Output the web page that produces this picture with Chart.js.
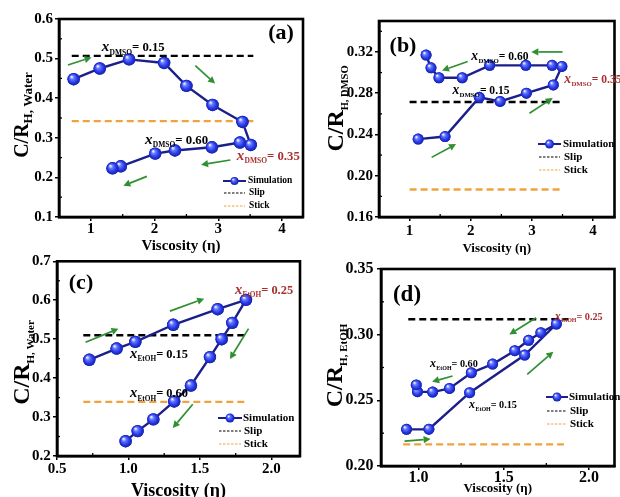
<!DOCTYPE html>
<html><head><meta charset="utf-8">
<script src="https://cdn.jsdelivr.net/npm/chart.js@4.4.0/dist/chart.umd.min.js"></script>
<style>
html,body{margin:0;padding:0;background:#fff;width:620px;height:497px;overflow:hidden;position:relative;}
canvas{position:absolute;}
</style></head><body>
<canvas id="ca" width="310" height="270" style="left:0;top:0"></canvas>
<canvas id="cb" width="310" height="270" style="left:310px;top:0"></canvas>
<canvas id="cc" width="310" height="270" style="left:0;top:250px"></canvas>
<canvas id="cd" width="310" height="270" style="left:310px;top:250px"></canvas>
<script>
// ---------- DATA ----------
// (a) DMSO-water, C/R_H,Water
const A_VISCOSITY = [0.73, 1.14, 1.60, 2.15, 2.50, 2.91, 3.38, 3.51, 3.34, 2.90, 2.32, 2.01, 1.47, 1.34];
const A_CR        = [0.448, 0.475, 0.498, 0.489, 0.431, 0.383, 0.340, 0.282, 0.288, 0.276, 0.268, 0.260, 0.228, 0.223];
const A_SLIP_X = [0.70, 3.55], A_SLIP_Y = [0.507, 0.507];
const A_STICK_X = [0.70, 3.55], A_STICK_Y = [0.342, 0.342];
const A_XTICKS = [1, 2, 3, 4];
const A_YTICKS = [0.1, 0.2, 0.3, 0.4, 0.5, 0.6];

// (b) DMSO-water, C/R_H,DMSO
const B_VISCOSITY = [1.14, 1.58, 2.14, 2.48, 2.91, 3.35, 3.49, 3.33, 2.90, 2.31, 1.86, 1.48, 1.35, 1.27];
const B_CR        = [0.2355, 0.238, 0.276, 0.272, 0.280, 0.288, 0.306, 0.307, 0.307, 0.307, 0.295, 0.295, 0.3046, 0.317];
const B_SLIP_X = [1.0, 3.51], B_SLIP_Y = [0.2715, 0.2715];
const B_STICK_X = [1.0, 3.51], B_STICK_Y = [0.1866, 0.1866];
const B_XTICKS = [1, 2, 3, 4];
const B_YTICKS = [0.16, 0.20, 0.24, 0.28, 0.32];

// (c) EtOH-water, C/R_H,Water
const C_VISCOSITY = [0.726, 0.917, 1.048, 1.313, 1.624, 1.822, 1.726, 1.652, 1.570, 1.437, 1.320, 1.174, 1.064, 0.980];
const C_CR        = [0.447, 0.476, 0.493, 0.537, 0.577, 0.601, 0.542, 0.500, 0.454, 0.381, 0.340, 0.294, 0.264, 0.238];
const C_SLIP_X = [0.684, 1.831], C_SLIP_Y = [0.510, 0.510];
const C_STICK_X = [0.684, 1.831], C_STICK_Y = [0.339, 0.339];
const C_XTICKS = [0.5, 1.0, 1.5, 2.0];
const C_YTICKS = [0.2, 0.3, 0.4, 0.5, 0.6, 0.7];

// (d) EtOH-water, C/R_H,EtOH
const D_VISCOSITY = [0.93, 1.061, 1.30, 1.623, 1.809, 1.718, 1.646, 1.565, 1.435, 1.31, 1.182, 1.083, 0.994, 0.987];
const D_CR        = [0.2279, 0.228, 0.2558, 0.2845, 0.3081, 0.3015, 0.2957, 0.2878, 0.2776, 0.271, 0.2591, 0.2563, 0.2566, 0.2617];
const D_SLIP_X = [0.94, 1.88], D_SLIP_Y = [0.3117, 0.3117];
const D_STICK_X = [0.91, 1.853], D_STICK_Y = [0.2165, 0.2165];
const D_XTICKS = [1.0, 1.5, 2.0];
const D_YTICKS = [0.20, 0.25, 0.30, 0.35];

// green direction arrows (data coords: x1, y1 -> x2, y2)
const A_ARROWS = [[0.64,0.484,1.01,0.503],[2.64,0.482,2.95,0.437],[3.19,0.244,2.73,0.232],[1.88,0.2025,1.51,0.179]];
const B_ARROWS = [[3.50,0.320,2.99,0.320],[1.95,0.3107,1.53,0.302],[2.96,0.2606,3.34,0.2753],[1.36,0.2178,1.76,0.2307]];
const C_ARROWS = [[0.70,0.492,0.93,0.527],[1.29,0.572,1.53,0.604],[1.84,0.527,1.71,0.449],[1.45,0.333,1.31,0.272]];
const D_ARROWS = [[0.918,0.219,1.071,0.2205],[1.638,0.2698,1.791,0.287],[1.69,0.3129,1.533,0.3002],[1.20,0.2685,1.08,0.2642]];

// composition labels: [x, y, subscript, text, red?]
const A_LABELS = [[1.17,0.531,'DMSO','= 0.15',0],[1.85,0.297,'DMSO','= 0.60',0],[3.29,0.256,'DMSO','= 0.35',1]];
const B_LABELS = [[2.01,0.3164,'DMSO','= 0.60',0],[1.70,0.2837,'DMSO','= 0.15',0],[3.53,0.294,'DMSO','= 0.35',1]];
const C_LABELS = [[1.745,0.6286,'EtOH','= 0.25',1],[1.01,0.465,'EtOH','= 0.15',0],[1.01,0.363,'EtOH','= 0.60',0]];
const D_LABELS = [[1.80,0.3145,'EtOH','= 0.25',1],[1.067,0.2784,'EtOH','= 0.60',0],[1.297,0.2472,'EtOH','= 0.15',0]];

const LEGEND_NAMES = ['Simulation', 'Slip', 'Stick'];

// ---------- STYLE / LAYOUT ----------
const FONT = '"Liberation Serif", "Times New Roman", serif';
const NAVY = '#1b1f8c', ORANGE = '#f0a23c', GREEN = '#2f9032', RED = '#a93030';
const H = 270;

const PANELS = [
  {id:'ca', tag:'(a)', vx:A_VISCOSITY, vy:A_CR, slip:[A_SLIP_X,A_SLIP_Y], stick:[A_STICK_X,A_STICK_Y],
   xt:A_XTICKS, yt:A_YTICKS, xdec:0, ydec:1, xr:[0.5,4.33], yr:[0.1,0.6],
   area:{l:59,t:19,r:303,b:217}, tickSize:15, xPad:-0.5, yPad:2, titleSize:15, titlePb:15,
   ySub:'H, Water', yMain:20, ySubSize:13, yBx:28, yCy:115,
   arrows:A_ARROWS, labels:A_LABELS, ls:15, r:6.2,
   tagPos:[281,33], tagSize:22,
   leg:{x0:223,x1:246,tx:248,rows:[181,193,206],size:9.5,r:4}},
  {id:'cb', tag:'(b)', vx:B_VISCOSITY, vy:B_CR, slip:[B_SLIP_X,B_SLIP_Y], stick:[B_STICK_X,B_STICK_Y],
   xt:B_XTICKS, yt:B_YTICKS, xdec:0, ydec:2, xr:[0.5,4.35], yr:[0.16,0.35],
   area:{l:69,t:21,r:309,b:217}, tickSize:15, xPad:1, yPad:2, titleSize:13, titlePb:14,
   ySub:'H, DMSO', yMain:24, ySubSize:10.5, yBx:33, yCy:108.5,
   arrows:B_ARROWS, labels:B_LABELS, ls:13.6, r:5.5,
   tagPos:[93,46], tagSize:22,
   leg:{x0:228,x1:251,tx:253,rows:[144,157,170],size:11,r:4.5}},
  {id:'cc', tag:'(c)', vx:C_VISCOSITY, vy:C_CR, slip:[C_SLIP_X,C_SLIP_Y], stick:[C_STICK_X,C_STICK_Y],
   xt:C_XTICKS, yt:C_YTICKS, xdec:1, ydec:1, xr:[0.5,2.2], yr:[0.2,0.7],
   area:{l:57,t:10,r:300,b:206}, tickSize:15, xPad:0, yPad:2.3, titleSize:18, titlePb:18,
   ySub:'H, Water', yMain:24, ySubSize:11, yBx:29, yCy:112.5,
   arrows:C_ARROWS, labels:C_LABELS, ls:14.6, r:6.2,
   tagPos:[81,33], tagSize:22,
   leg:{x0:218,x1:242,tx:243,rows:[168,181,194],size:11,r:4.5}},
  {id:'cd', tag:'(d)', vx:D_VISCOSITY, vy:D_CR, slip:[D_SLIP_X,D_SLIP_Y], stick:[D_STICK_X,D_STICK_Y],
   xt:D_XTICKS, yt:D_YTICKS, xdec:1, ydec:2, xr:[0.78,2.15], yr:[0.20,0.35],
   area:{l:71,t:19,r:309,b:216}, tickSize:16, xPad:-1.6, yPad:3.4, titleSize:13, titlePb:24,
   ySub:'H, EtOH', yMain:24, ySubSize:11, yBx:32, yCy:115.5,
   arrows:D_ARROWS, labels:D_LABELS, ls:12, r:5.5,
   tagPos:[97,45], tagSize:23,
   leg:{x0:236,x1:258,tx:259,rows:[147,161,174],size:11,r:4.5}}
];
const PANEL_BY_ID = {};
PANELS.forEach(P => { PANEL_BY_ID[P.id] = P; });

// ---------- drawing helpers ----------
function sphere(ctx, x, y, r) {
  const g = ctx.createRadialGradient(x - r*0.35, y - r*0.4, r*0.08, x, y, r);
  g.addColorStop(0, '#e6ecff');
  g.addColorStop(0.28, '#6677ff');
  g.addColorStop(0.7, '#2436e6');
  g.addColorStop(1, '#16239e');
  ctx.beginPath(); ctx.arc(x, y, r, 0, Math.PI*2); ctx.fillStyle = g; ctx.fill();
}
function arrow(ctx, x1, y1, x2, y2) {
  const a = Math.atan2(y2 - y1, x2 - x1), hl = 7, hw = 3.6;
  const bx = x2 - hl*Math.cos(a), by = y2 - hl*Math.sin(a);
  ctx.strokeStyle = GREEN; ctx.fillStyle = GREEN; ctx.lineWidth = 1.7; ctx.setLineDash([]);
  ctx.beginPath(); ctx.moveTo(x1, y1); ctx.lineTo(bx, by); ctx.stroke();
  ctx.beginPath(); ctx.moveTo(x2, y2);
  ctx.lineTo(bx + hw*Math.sin(a), by - hw*Math.cos(a));
  ctx.lineTo(bx - hw*Math.sin(a), by + hw*Math.cos(a));
  ctx.closePath(); ctx.fill();
}
function compLabel(ctx, x, y, sub, rest, color, s) {
  ctx.fillStyle = color; ctx.textBaseline = 'alphabetic'; ctx.textAlign = 'left';
  const base = y + 0.33*s;
  ctx.font = 'italic bold ' + s + 'px ' + FONT; ctx.fillText('x', x, base);
  let cx = x + ctx.measureText('x').width + 0.3;
  ctx.font = 'bold ' + (s*0.5) + 'px ' + FONT; ctx.fillText(sub, cx, base + s*0.22);
  cx += ctx.measureText(sub).width;
  ctx.font = 'bold ' + (s*0.85) + 'px ' + FONT; ctx.fillText(rest, cx, base);
}

const deco = {
  id: 'deco',
  afterDatasetsDraw(chart) {
    const P = PANEL_BY_ID[chart.canvas.id], ctx = chart.ctx;
    if (!P) return;
    const meta = chart.getDatasetMeta(0);
    ctx.save();
    meta.data.forEach(pt => sphere(ctx, pt.x, pt.y, P.r));
    ctx.restore();
  },
  afterDraw(chart) {
    const P = PANEL_BY_ID[chart.canvas.id], ctx = chart.ctx, ca = chart.chartArea;
    if (!P) return;
    const xs = chart.scales.x, ys = chart.scales.y;
    ctx.save();
    // minor ticks (inward)
    ctx.strokeStyle = '#000'; ctx.lineWidth = 1.3;
    const minors = (t) => { const m = []; for (let i = 0; i < t.length - 1; i++) m.push((t[i] + t[i+1]) / 2);
      const st = t[1] - t[0]; m.push(t[0] - st/2, t[t.length-1] + st/2); return m; };
    minors(P.xt).forEach(v => { if (v < P.xr[0] || v > P.xr[1]) return; const px = xs.getPixelForValue(v);
      ctx.beginPath(); ctx.moveTo(px, ca.bottom); ctx.lineTo(px, ca.bottom - 3); ctx.stroke(); });
    minors(P.yt).forEach(v => { if (v < P.yr[0] || v > P.yr[1]) return; const py = ys.getPixelForValue(v);
      ctx.beginPath(); ctx.moveTo(ca.left, py); ctx.lineTo(ca.left + 3, py); ctx.stroke(); });
    // frame
    ctx.lineWidth = 2.6; ctx.strokeStyle = '#000';
    ctx.strokeRect(ca.left, ca.top, ca.right - ca.left, ca.bottom - ca.top);
    // arrows
    P.arrows.forEach(a => arrow(ctx, xs.getPixelForValue(a[0]), ys.getPixelForValue(a[1]),
                                     xs.getPixelForValue(a[2]), ys.getPixelForValue(a[3])));
    // composition labels
    P.labels.forEach(l => compLabel(ctx, xs.getPixelForValue(l[0]), ys.getPixelForValue(l[1]), l[2], l[3], l[4] ? RED : '#000', P.ls));
    // panel tag
    ctx.fillStyle = '#000'; ctx.font = 'bold ' + P.tagSize + 'px ' + FONT; ctx.textAlign = 'center'; ctx.textBaseline = 'middle';
    ctx.fillText(P.tag, P.tagPos[0], P.tagPos[1]);
    // legend
    const L = P.leg;
    ctx.lineWidth = 2; ctx.strokeStyle = NAVY; ctx.setLineDash([]);
    ctx.beginPath(); ctx.moveTo(L.x0, L.rows[0]); ctx.lineTo(L.x1, L.rows[0]); ctx.stroke();
    sphere(ctx, (L.x0 + L.x1) / 2, L.rows[0], L.r);
    ctx.lineWidth = 1; ctx.setLineDash([2.5, 1.5]);
    ctx.strokeStyle = '#000'; ctx.beginPath(); ctx.moveTo(L.x0 + 1, L.rows[1]); ctx.lineTo(L.x1 - 1, L.rows[1]); ctx.stroke();
    ctx.strokeStyle = ORANGE; ctx.beginPath(); ctx.moveTo(L.x0 + 1, L.rows[2]); ctx.lineTo(L.x1 - 1, L.rows[2]); ctx.stroke();
    ctx.setLineDash([]);
    ctx.fillStyle = '#000'; ctx.font = 'bold ' + L.size + 'px ' + FONT; ctx.textAlign = 'left'; ctx.textBaseline = 'middle';
    LEGEND_NAMES.forEach((n, i) => ctx.fillText(n, L.tx + (i ? 1 : 0), L.rows[i]));
    // y title with subscript
    ctx.translate(P.yBx, P.yCy); ctx.rotate(-Math.PI / 2);
    ctx.textBaseline = 'alphabetic'; ctx.textAlign = 'left';
    ctx.font = 'bold ' + P.yMain + 'px ' + FONT; const wm = ctx.measureText('C/R').width;
    ctx.font = 'bold ' + P.ySubSize + 'px ' + FONT; const wsub = ctx.measureText(P.ySub).width;
    const start = -(wm + wsub) / 2;
    ctx.font = 'bold ' + P.yMain + 'px ' + FONT; ctx.fillText('C/R', start, 0);
    ctx.font = 'bold ' + P.ySubSize + 'px ' + FONT; ctx.fillText(P.ySub, start + wm, P.yMain * 0.22);
    ctx.restore();
  }
};

PANELS.forEach(P => {
  const toPts = (xa, ya) => xa.map((v, i) => ({x: v, y: ya[i]}));
  const cfg = {
    type: 'scatter',
    data: { datasets: [
      { label: 'Simulation', data: toPts(P.vx, P.vy), showLine: true, borderColor: NAVY, borderWidth: 2.4,
        pointRadius: P.r, pointBackgroundColor: '#2436e6', pointBorderWidth: 0, tension: 0 },
      { label: 'Slip', data: toPts(P.slip[0], P.slip[1]), showLine: true, borderColor: '#000', borderWidth: 2.4,
        borderDash: [7, 4], pointRadius: 0 },
      { label: 'Stick', data: toPts(P.stick[0], P.stick[1]), showLine: true, borderColor: ORANGE, borderWidth: 2.4,
        borderDash: [7, 4], pointRadius: 0 }
    ]},
    options: {
      responsive: false, animation: false, devicePixelRatio: 1, events: [],
      layout: { padding: { top: P.area.t, right: 310 - P.area.r, left: 0, bottom: 0 } },
      plugins: { legend: { display: false }, tooltip: { enabled: false } },
      scales: {
        x: { type: 'linear', position: 'bottom', min: P.xr[0], max: P.xr[1],
          afterBuildTicks: s => { s.ticks = P.xt.map(v => ({value: v})); },
          afterFit: s => { s.height = H - P.area.b; },
          ticks: { color: '#000', font: { family: FONT, weight: 'bold', size: P.tickSize }, padding: P.xPad,
                   maxRotation: 0, autoSkip: false, callback: v => Number(v).toFixed(P.xdec) },
          grid: { drawOnChartArea: false, drawTicks: true, tickLength: 4, color: '#000', lineWidth: 1.5 },
          border: { color: '#000', width: 2.6 },
          title: { display: true, text: 'Viscosity (η)', color: '#000',
                   font: { family: FONT, weight: 'bold', size: P.titleSize }, padding: { top: 0, bottom: P.titlePb } } },
        y: { type: 'linear', position: 'left', min: P.yr[0], max: P.yr[1],
          afterBuildTicks: s => { s.ticks = P.yt.map(v => ({value: v})); },
          afterFit: s => { s.width = P.area.l; },
          ticks: { color: '#000', font: { family: FONT, weight: 'bold', size: P.tickSize }, padding: P.yPad,
                   autoSkip: false, callback: v => Number(v).toFixed(P.ydec) },
          grid: { drawOnChartArea: false, drawTicks: true, tickLength: 4, color: '#000', lineWidth: 1.5 },
          border: { color: '#000', width: 2.6 },
          title: { display: false } }
      }
    },
    plugins: [deco]
  };
  new Chart(document.getElementById(P.id), cfg);
});
</script>
</body></html>
